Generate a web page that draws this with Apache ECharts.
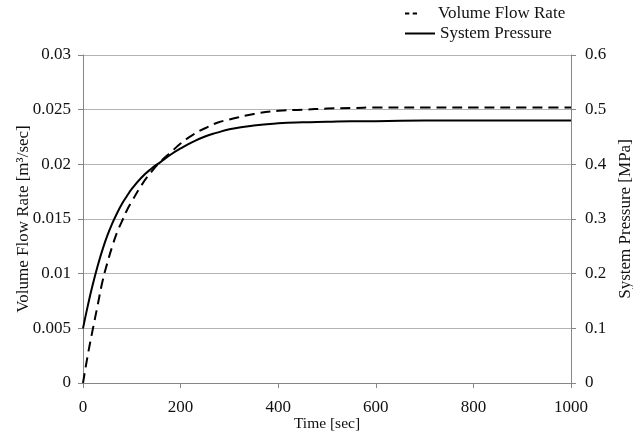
<!DOCTYPE html>
<html>
<head>
<meta charset="utf-8">
<script src="https://cdn.jsdelivr.net/npm/echarts@6/dist/echarts.min.js"></script>
<style>
html,body{margin:0;padding:0;background:#fff;}
#chart{width:633px;height:433px;}
</style>
</head>
<body>
<div id="chart"></div>
<script>
var timeSec = [0, 10, 20, 30, 40, 50, 60, 70, 80, 90, 100, 120, 140, 160, 180, 200, 225, 250, 275, 300, 350, 400, 450, 500, 550, 600, 700, 800, 900, 1000];
var flowRate = [0, 0.0026, 0.0049, 0.0071, 0.0093, 0.0110, 0.0125, 0.0138, 0.0148, 0.0158, 0.0166, 0.0181, 0.0193, 0.0203, 0.0211, 0.0219, 0.0227, 0.0233, 0.0238, 0.0241, 0.0246, 0.0249, 0.0250, 0.0251, 0.02515, 0.0252, 0.0252, 0.0252, 0.0252, 0.0252];
var pressure = [0.100, 0.142, 0.180, 0.214, 0.244, 0.270, 0.292, 0.311, 0.328, 0.342, 0.355, 0.376, 0.392, 0.405, 0.418, 0.429, 0.441, 0.451, 0.458, 0.464, 0.471, 0.475, 0.477, 0.478, 0.479, 0.479, 0.480, 0.480, 0.480, 0.480];
var seriesNames = ['Volume Flow Rate', 'System Pressure'];
var xTitle = 'Time [sec]';
var yLeftTitle = 'Volume Flow Rate [m\u00B3/sec]';
var yRightTitle = 'System Pressure [MPa]';

function pairs(xs, ys) { return xs.map(function (x, i) { return [x, ys[i]]; }); }

var font = 'Liberation Serif';
var txt = '#111';
var axisGray = '#868686';
var gridGray = '#b4b4b4';
var plain = function (v) { return String(v); };

var legendText = {fontFamily: font, fontSize: 17, color: txt};

var chart = echarts.init(document.getElementById('chart'), null, {renderer: 'canvas'});
chart.setOption({
  animation: false,
  backgroundColor: '#fff',
  textStyle: {fontFamily: font, color: txt},
  grid: {left: 83, right: 62, top: 55, bottom: 50, containLabel: false, outerBoundsMode: 'none'},
  legend: [
    {
      left: 400, top: 0, orient: 'vertical',
      itemWidth: 12, itemHeight: 2, symbolKeepAspect: false,
      textStyle: Object.assign({padding: [0, 0, 0, 16]}, legendText),
      itemStyle: {color: '#000', borderWidth: 0},
      data: [{name: seriesNames[0], icon: 'path://M0,0h4.3v2h-4.3z M7.7,0h4.3v2h-4.3z'}]
    },
    {
      left: 400, top: 20, orient: 'vertical',
      itemWidth: 30, itemHeight: 2, symbolKeepAspect: false,
      textStyle: legendText,
      itemStyle: {color: '#000', borderWidth: 0},
      data: [{name: seriesNames[1], icon: 'rect'}]
    }
  ],
  xAxis: {
    type: 'value', min: 0, max: 1000, interval: 200,
    name: xTitle, nameLocation: 'middle', nameGap: 33, nameMoveOverlap: false,
    nameTextStyle: {fontFamily: font, fontSize: 15.5, color: txt},
    axisLine: {lineStyle: {color: axisGray, width: 1}},
    axisTick: {show: true, length: 5, lineStyle: {color: axisGray}},
    axisLabel: {fontFamily: font, fontSize: 17, color: txt, margin: 16, formatter: plain},
    splitLine: {show: false}
  },
  yAxis: [
    {
      type: 'value', min: 0, max: 0.03, interval: 0.005, position: 'left',
      name: yLeftTitle, nameLocation: 'middle', nameGap: 51, nameRotate: 90, nameMoveOverlap: false,
      nameTextStyle: {fontFamily: font, fontSize: 17, color: txt},
      axisLine: {show: true, lineStyle: {color: axisGray, width: 1}},
      axisTick: {show: true, length: 5, lineStyle: {color: axisGray}},
      axisLabel: {fontFamily: font, fontSize: 17, color: txt, margin: 12, formatter: plain},
      splitLine: {show: true, lineStyle: {color: gridGray, width: 1}}
    },
    {
      type: 'value', min: 0, max: 0.6, interval: 0.1, position: 'right',
      name: yRightTitle, nameLocation: 'middle', nameGap: 44, nameRotate: 90,
      nameTextStyle: {fontFamily: font, fontSize: 17, color: txt},
      axisLine: {show: true, lineStyle: {color: axisGray, width: 1}},
      axisTick: {show: true, length: 5, lineStyle: {color: axisGray}},
      axisLabel: {fontFamily: font, fontSize: 17, color: txt, margin: 14, formatter: plain},
      splitLine: {show: false}
    }
  ],
  series: [
    {
      name: seriesNames[0], type: 'line', yAxisIndex: 0, smooth: true,
      symbol: 'none', data: pairs(timeSec, flowRate),
      lineStyle: {color: '#000', width: 2, type: [10, 6]},
      itemStyle: {color: '#000'}
    },
    {
      name: seriesNames[1], type: 'line', yAxisIndex: 1, smooth: true,
      symbol: 'none', data: pairs(timeSec, pressure),
      lineStyle: {color: '#000', width: 2, type: 'solid'},
      itemStyle: {color: '#000'}
    }
  ]
});
</script>
</body>
</html>
